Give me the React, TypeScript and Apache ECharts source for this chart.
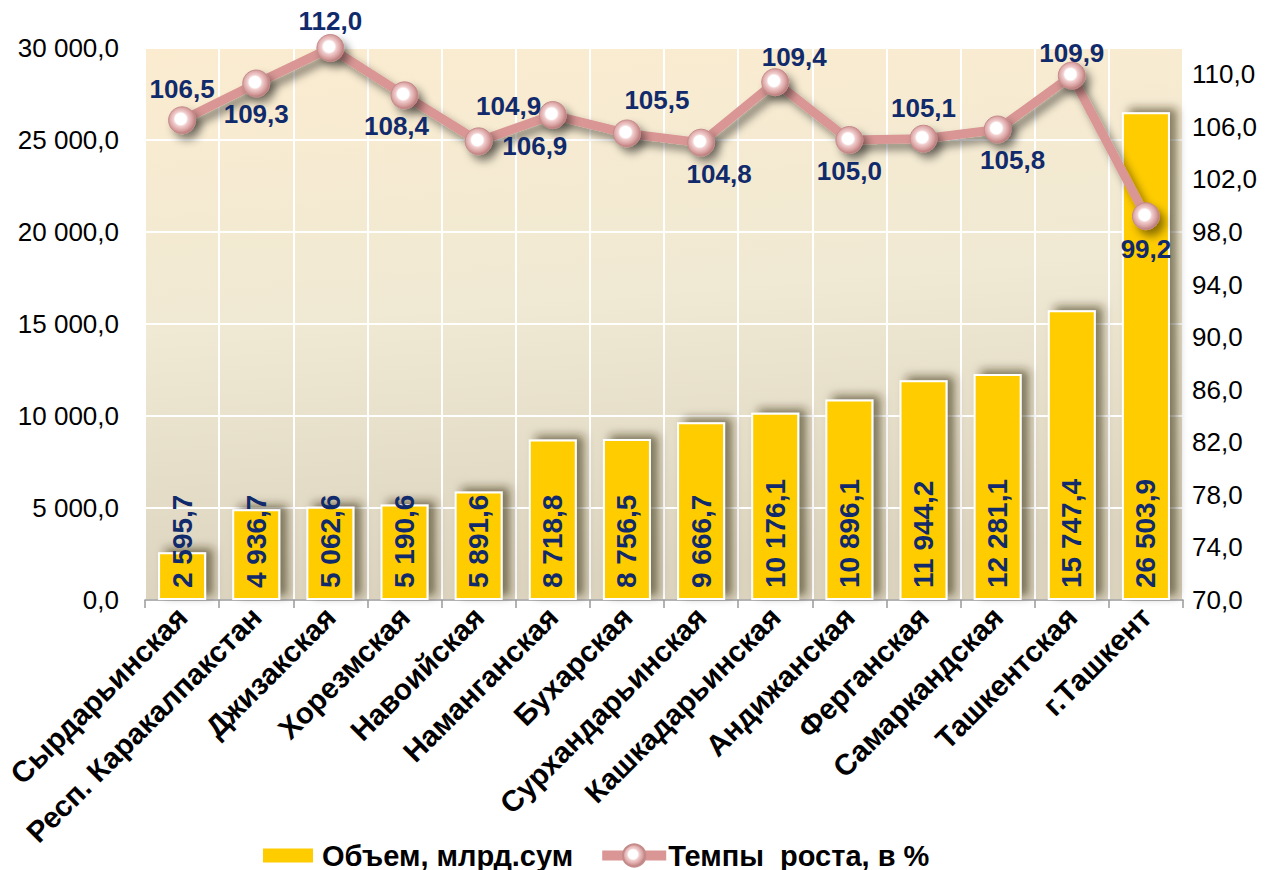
import React, { useEffect, useRef } from "react";
import * as echarts from "echarts";

const categories = [
  "Сырдарьинская",
  "Респ. Каракалпакстан",
  "Джизакская",
  "Хорезмская",
  "Навоийская",
  "Наманганская",
  "Бухарская",
  "Сурхандарьинская",
  "Кашкадарьинская",
  "Андижанская",
  "Ферганская",
  "Самаркандская",
  "Ташкентская",
  "г.Ташкент",
];

const volumeValues = [
  2595.7, 4936.7, 5062.6, 5190.6, 5891.6, 8718.8, 8756.5, 9666.7, 10176.1,
  10896.1, 11944.2, 12281.1, 15747.4, 26503.9,
];

const growthValues = [
  106.5, 109.3, 112.0, 108.4, 104.9, 106.9, 105.5, 104.8, 109.4, 105.0, 105.1,
  105.8, 109.9, 99.2,
];

const seriesNames = ["Объем, млрд.сум", "Темпы  роста, в %"];

// label placement for line points (style only)
const lineLabelPlacement: { pos: string; off: [number, number] }[] = [
  { pos: "top", off: [0, 2] },
  { pos: "bottom", off: [0, -2] },
  { pos: "top", off: [0, 6] },
  { pos: "bottom", off: [-8, -2] },
  { pos: "top", off: [30, -2] },
  { pos: "bottom", off: [-18, -2] },
  { pos: "top", off: [30, 0] },
  { pos: "bottom", off: [18, -2] },
  { pos: "top", off: [19, 8] },
  { pos: "bottom", off: [0, -2] },
  { pos: "top", off: [0, 2] },
  { pos: "bottom", off: [15, -2] },
  { pos: "top", off: [0, 10] },
  { pos: "bottom", off: [0, 0] },
];

const fmt = (v: number) => {
  const [i, d] = v.toFixed(1).split(".");
  const withSpaces = i.replace(/\B(?=(\d{3})+(?!\d))/g, " ");
  return withSpaces + "," + d;
};

const FONT = "'Liberation Sans', Arial, sans-serif";
const NAVY = "#102a6b";

export default function App() {
  const ref = useRef<HTMLDivElement>(null);

  useEffect(() => {
    if (!ref.current) return;
    const chart = echarts.init(ref.current, null, { renderer: "svg" });

    const markerColor = new echarts.graphic.RadialGradient(0.45, 0.45, 0.6, [
      { offset: 0, color: "#ffffff" },
      { offset: 0.35, color: "#ffffff" },
      { offset: 0.45, color: "#f2cfcf" },
      { offset: 0.75, color: "#d69c9c" },
      { offset: 1, color: "#a86a6a" },
    ]);

    const option: any = {
      animation: false,
      textStyle: { fontFamily: FONT },
      legend: {
        bottom: -5,
        left: 258,
        itemGap: 24,
        itemWidth: 64,
        itemHeight: 28,
        itemStyle: { shadowBlur: 0, shadowOffsetX: 0, shadowOffsetY: 0 },
        textStyle: {
          fontSize: 29,
          fontWeight: "bold",
          color: "#000",
          fontFamily: FONT,
          padding: [0, 0, 0, -3],
        },
        data: [
          {
            name: seriesNames[0],
            icon: "path://M0,0 M0,7 L50,7 L50,21 L0,21 Z M50,28",
            itemStyle: { borderWidth: 0 },
          },
          {
            name: seriesNames[1],
            lineStyle: { width: 10, shadowBlur: 0, shadowOffsetX: 0, shadowOffsetY: 0 },
          },
        ],
      },
      grid: {
        left: 145,
        right: 94,
        top: 48,
        bottom: 270,
        show: true,
        borderWidth: 0,
        backgroundColor: new echarts.graphic.LinearGradient(0, 0, 0.15, 1, [
          { offset: 0, color: "#fbecd0" },
          { offset: 0.5, color: "#f0e9d3" },
          { offset: 1, color: "#dbd3bd" },
        ]),
      },
      xAxis: {
        type: "category",
        data: categories,
        boundaryGap: true,
        axisLine: { show: true, lineStyle: { color: "#9a9a9a", width: 1.5 } },
        axisTick: {
          show: true,
          length: 8,
          lineStyle: { color: "#9a9a9a", width: 1.5 },
        },
        splitLine: { show: true, lineStyle: { color: "#ffffff", width: 2 } },
        axisLabel: {
          rotate: 45,
          interval: 0,
          fontSize: 29.5,
          fontWeight: "bold",
          color: "#000",
          fontFamily: FONT,
          margin: 12,
        },
      },
      yAxis: [
        {
          type: "value",
          min: 0,
          max: 30000,
          interval: 5000,
          axisLine: { show: false },
          axisTick: { show: false },
          splitLine: { show: true, lineStyle: { color: "#ffffff", width: 2 } },
          axisLabel: {
            fontSize: 26,
            color: "#000",
            fontFamily: FONT,
            margin: 26,
            formatter: (v: number) => fmt(v),
          },
        },
        {
          type: "value",
          min: 70,
          max: 112,
          interval: 4,
          position: "right",
          axisLine: { show: false },
          axisTick: { show: false },
          splitLine: { show: false },
          axisLabel: {
            fontSize: 26,
            color: "#000",
            fontFamily: FONT,
            margin: 9,
            formatter: (v: number) => (v > 110 ? "" : fmt(v)),
          },
        },
      ],
      series: [
        {
          name: seriesNames[0],
          type: "bar",
          yAxisIndex: 0,
          barWidth: 48,
          data: volumeValues,
          itemStyle: {
            color: "#ffcc00",
            borderColor: "#ffffff",
            borderWidth: 2,
            shadowColor: "rgba(40,30,0,0.55)",
            shadowBlur: 10,
            shadowOffsetX: 7,
            shadowOffsetY: -4,
          },
          label: {
            show: true,
            position: "insideBottom",
            rotate: 90,
            align: "left",
            verticalAlign: "middle",
            distance: 12,
            fontSize: 28,
            fontWeight: "bold",
            color: NAVY,
            fontFamily: FONT,
            formatter: (p: any) => fmt(p.value),
          },
        },
        {
          name: seriesNames[1],
          type: "line",
          yAxisIndex: 1,
          z: 5,
          symbol: "circle",
          symbolSize: 27,
          lineStyle: {
            color: "#d99694",
            width: 9,
            shadowColor: "rgba(0,0,0,0.45)",
            shadowBlur: 8,
            shadowOffsetX: 5,
            shadowOffsetY: 6,
          },
          itemStyle: {
            color: markerColor,
            borderColor: "#c58a8a",
            borderWidth: 1,
            shadowColor: "rgba(0,0,0,0.45)",
            shadowBlur: 8,
            shadowOffsetX: 5,
            shadowOffsetY: 6,
          },
          data: growthValues.map((v, i) => ({
            value: v,
            label: {
              position: lineLabelPlacement[i].pos,
              offset: lineLabelPlacement[i].off,
            },
          })),
          label: {
            show: true,
            distance: 6,
            fontSize: 26,
            fontWeight: "bold",
            color: NAVY,
            fontFamily: FONT,
            formatter: (p: any) => fmt(p.value),
          },
        },
      ],
    };

    chart.setOption(option);
    return () => chart.dispose();
  }, []);

  return (
    <div
      ref={ref}
      style={{ position: "fixed", left: 0, top: 0, width: 1277, height: 870, background: "#fff" }}
    />
  );
}
